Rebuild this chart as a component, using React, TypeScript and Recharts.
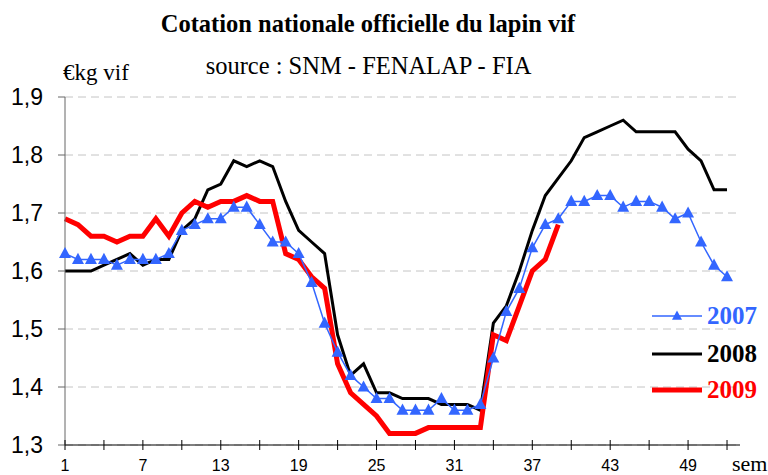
import React from 'react';
import { LineChart, Line, XAxis, YAxis, CartesianGrid } from 'recharts';

// semaines 1..52
const weeks = Array.from({ length: 52 }, (_, i) => i + 1);

const y2007 = [
  1.63, 1.62, 1.62, 1.62, 1.61, 1.62, 1.62, 1.62, 1.63, 1.67,
  1.68, 1.69, 1.69, 1.71, 1.71, 1.68, 1.65, 1.65, 1.63, 1.58,
  1.51, 1.46, 1.42, 1.40, 1.38, 1.38, 1.36, 1.36, 1.36, 1.38,
  1.36, 1.36, 1.37, 1.45, 1.53, 1.57, 1.64, 1.68, 1.69, 1.72,
  1.72, 1.73, 1.73, 1.71, 1.72, 1.72, 1.71, 1.69, 1.70, 1.65,
  1.61, 1.59,
];

const y2008 = [
  1.60, 1.60, 1.60, 1.61, 1.62, 1.63, 1.61, 1.62, 1.62, 1.67,
  1.69, 1.74, 1.75, 1.79, 1.78, 1.79, 1.78, 1.72, 1.67, 1.65,
  1.63, 1.49, 1.42, 1.44, 1.39, 1.39, 1.38, 1.38, 1.38, 1.37,
  1.37, 1.37, 1.36, 1.51, 1.54, 1.60, 1.67, 1.73, 1.76, 1.79,
  1.83, 1.84, 1.85, 1.86, 1.84, 1.84, 1.84, 1.84, 1.81, 1.79,
  1.74, 1.74,
];

// 2009 : jusqu'à la semaine 39
const y2009 = [
  1.69, 1.68, 1.66, 1.66, 1.65, 1.66, 1.66, 1.69, 1.66, 1.70,
  1.72, 1.71, 1.72, 1.72, 1.73, 1.72, 1.72, 1.63, 1.62, 1.59,
  1.57, 1.44, 1.39, 1.37, 1.35, 1.32, 1.32, 1.32, 1.33, 1.33,
  1.33, 1.33, 1.33, 1.49, 1.48, 1.54, 1.60, 1.62, 1.68,
];

const xTicks = [1, 4, 7, 10, 13, 16, 19, 22, 25, 28, 31, 34, 37, 40, 43, 46, 49, 52];
const xLabels = [1, 7, 13, 19, 25, 31, 37, 43, 49];
const yTicks = [1.3, 1.4, 1.5, 1.6, 1.7, 1.8, 1.9];

const BLUE = '#3366FF';
const RED = '#FF0000';

const data = weeks.map((w, i) => ({
  week: w,
  y2007: y2007[i],
  y2008: y2008[i],
  y2009: y2009[i],
}));

const legend = [
  { name: '2007', color: BLUE, width: 1.5, marker: true },
  { name: '2008', color: '#000000', width: 3, marker: false },
  { name: '2009', color: RED, width: 5, marker: false },
];

const SANS = 'Liberation Sans, Arial, sans-serif';
const SERIF = 'Liberation Serif, Times New Roman, DejaVu Serif, serif';

function triangle(cx: number, cy: number, s: number) {
  return `M${cx},${cy - s * 1.1}L${cx + s},${cy + s * 0.75}L${cx - s},${cy + s * 0.75}Z`;
}

function TriangleDot(props: any) {
  const { cx, cy, index } = props;
  if (cx == null || cy == null) return <g key={index} />;
  return <path key={index} d={triangle(cx, cy, 6)} fill={BLUE} />;
}

function WeekTick(props: any) {
  const { x, y, payload } = props;
  const show = xLabels.includes(payload.value);
  return (
    <g>
      <line x1={x} x2={x} y1={y - 5} y2={y + 5} stroke="#000" strokeWidth={1} />
      {show && (
        <text x={x} y={y + 26} textAnchor="middle" fontFamily={SANS} fontSize={16} fill="#000">
          {payload.value}
        </text>
      )}
    </g>
  );
}

export default function App() {
  return (
    <div style={{ position: 'absolute', left: 0, top: 0, width: 768, height: 475 }}>
      <LineChart width={768} height={475} data={data} margin={{ top: 97, right: 28, bottom: 0, left: 5 }}>
        <CartesianGrid vertical={false} stroke="#c4c4c4" strokeDasharray="8 5" />
        <XAxis
          dataKey="week"
          type="number"
          domain={[1, 53]}
          ticks={xTicks}
          interval={0}
          height={30}
          tickSize={0}
          tickMargin={0}
          tickLine={false}
          axisLine={{ stroke: '#000', strokeWidth: 1 }}
          tick={<WeekTick />}
        />
        <YAxis
          type="number"
          domain={[1.3, 1.9]}
          ticks={yTicks}
          interval={0}
          width={60}
          tickSize={7}
          tickMargin={15}
          stroke="#666"
          tick={{ fill: '#000', fontFamily: SANS, fontSize: 23 }}
          tickFormatter={(v: number) => v.toFixed(1).replace('.', ',')}
        />
        <Line dataKey="y2008" stroke="#000" strokeWidth={3} dot={false} isAnimationActive={false} type="linear" />
        <Line dataKey="y2009" stroke={RED} strokeWidth={5} dot={false} isAnimationActive={false} type="linear" />
        <Line dataKey="y2007" stroke={BLUE} strokeWidth={1.5} dot={TriangleDot} isAnimationActive={false} type="linear" />
      </LineChart>
      <svg width={768} height={475} style={{ position: 'absolute', left: 0, top: 0, pointerEvents: 'none' }}>
        <text x={368} y={32} textAnchor="middle" fontFamily={SERIF} fontWeight="bold" fontSize={24.5}>
          Cotation nationale officielle du lapin vif
        </text>
        <text x={368.5} y={74} textAnchor="middle" fontFamily={SERIF} fontSize={24.5}>
          source : SNM - FENALAP - FIA
        </text>
        <text x={63} y={80} fontFamily={SERIF} fontSize={23}>
          €kg vif
        </text>
        <text x={732} y={471} fontFamily={SERIF} fontSize={22}>
          sem
        </text>
        {legend.map((s, i) => {
          const ly = [316, 354, 390][i];
          return (
            <g key={s.name}>
              <line x1={652} x2={702} y1={ly} y2={ly} stroke={s.color} strokeWidth={s.width} />
              {s.marker && <path d={triangle(677, ly, 5)} fill={s.color} />}
              <text x={707} y={ly + 8} fontFamily={SERIF} fontWeight="bold" fontSize={25} fill={s.color}>
                {s.name}
              </text>
            </g>
          );
        })}
      </svg>
    </div>
  );
}
